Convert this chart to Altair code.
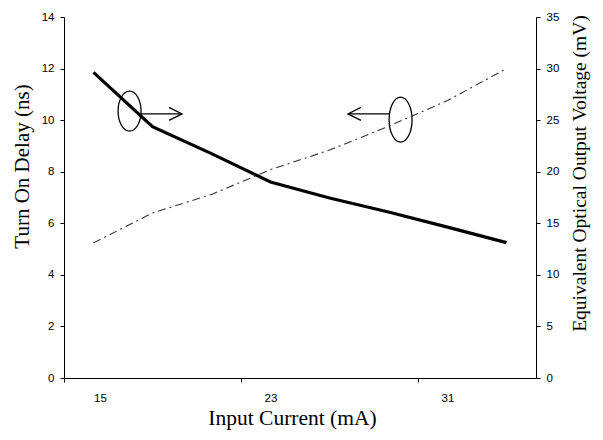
import altair as alt
import pandas as pd

# Data
current_ma = [15, 17.667, 20.333, 23, 25.667, 28.333, 31, 33.667]
turn_on_delay_ns = [11.85, 9.75, 8.7, 7.6, 6.98, 6.44, 5.85, 5.25]
optical_voltage_mv = [13.1, 16.0, 17.8, 20.2, 22.1, 24.4, 26.9, 30.0]

x_tick_values = [13.6667, 21.6667, 29.6667]

# Annotation ellipses / arrows (in data units of the left axis)
ell_x = [16.63, 28.88]
ell_y = [10.35, 10.02]
ell_shape = [
    "M0,-1 A0.575,1 0 1,1 0,1 A0.575,1 0 1,1 0,-1 Z",
    "M0,-1 A0.51,1 0 1,1 0,1 A0.51,1 0 1,1 0,-1 Z",
]
ell_size = [1600, 2025]
arr_x1 = [17.15, 28.36]
arr_x2 = [19.0, 26.5]
arr_y = [10.24, 10.24]
head_shape = ["M-2,-1 L0,0 L-2,1", "M2,-1 L0,0 L2,1"]

df = pd.DataFrame({"x": current_ma, "delay": turn_on_delay_ns, "volt": optical_voltage_mv})
ell_df = pd.DataFrame({"x": ell_x, "y": ell_y, "shape": ell_shape, "size": ell_size})
arr_df = pd.DataFrame({"x1": arr_x1, "x2": arr_x2, "y": arr_y, "shape": head_shape})

xscale = alt.Scale(domain=[13.6667, 35.0], nice=False, zero=False)
xaxis = alt.Axis(
    title="Input Current (mA)",
    values=x_tick_values,
    labelExpr="format(datum.value + 4/3, '.0f')",
    labelOffset=29.5,
    grid=False,
    tickSize=4,
    labelPadding=10,
    titlePadding=4,
    titleX=228,
    titleFontSize=21.5,
)
yleft_scale = alt.Scale(domain=[0, 14], nice=False)
yright_scale = alt.Scale(domain=[0, 35], nice=False)

solid = alt.Chart(df).mark_line(color="black", strokeWidth=3.2).encode(
    x=alt.X("x:Q", scale=xscale, axis=xaxis),
    y=alt.Y(
        "delay:Q",
        scale=yleft_scale,
        axis=alt.Axis(title="Turn On Delay (ns)", values=list(range(0, 15, 2)), grid=False,
                      tickSize=4, labelPadding=6, titlePadding=9, titleY=149),
    ),
)

ellipses = alt.Chart(ell_df).mark_point(filled=False, color="black", strokeWidth=1.3, opacity=1).encode(
    x=alt.X("x:Q", scale=xscale),
    y=alt.Y("y:Q", scale=yleft_scale),
    shape=alt.Shape("shape:N", scale=None),
    size=alt.Size("size:Q", scale=None),
)

arrow_lines = alt.Chart(arr_df).mark_rule(color="black", strokeWidth=1.3).encode(
    x=alt.X("x1:Q", scale=xscale),
    x2="x2:Q",
    y=alt.Y("y:Q", scale=yleft_scale),
)

arrow_heads = alt.Chart(arr_df).mark_point(filled=False, color="black", strokeWidth=1.3, opacity=1, size=169).encode(
    x=alt.X("x2:Q", scale=xscale),
    y=alt.Y("y:Q", scale=yleft_scale),
    shape=alt.Shape("shape:N", scale=None),
)

left_group = alt.layer(solid, ellipses, arrow_lines, arrow_heads)

dashed = alt.Chart(df).mark_line(color="#333333", strokeWidth=1.1, strokeDash=[8, 4, 2, 4]).encode(
    x=alt.X("x:Q", scale=xscale, axis=xaxis),
    y=alt.Y(
        "volt:Q",
        scale=yright_scale,
        axis=alt.Axis(title="Equivalent Optical Output Voltage (mV)", orient="right",
                      values=list(range(0, 36, 5)), grid=False, tickSize=4,
                      labelPadding=6, titlePadding=12, titleAngle=270,
                      titleBaseline="top", titleY=156, titleFontSize=19.5),
    ),
)

chart = (
    alt.layer(left_group, dashed)
    .resolve_scale(y="independent")
    .properties(
        width=472,
        height=361,
        autosize=alt.AutoSizeParams(type="none"),
        padding={"left": 56, "top": 9, "right": 59, "bottom": 53},
        background="white",
    )
    .configure_view(stroke=None)
    .configure_axis(
        domainColor="black",
        tickColor="black",
        labelColor="black",
        titleColor="black",
        labelFont="Liberation Sans",
        labelFontSize=11.5,
        titleFont="Liberation Serif",
        titleFontSize=21,
        titleFontWeight="normal",
        domainWidth=1,
        tickWidth=1,
    )
)

chart.save("out.html", embed_options={"renderer": "svg", "actions": False})
